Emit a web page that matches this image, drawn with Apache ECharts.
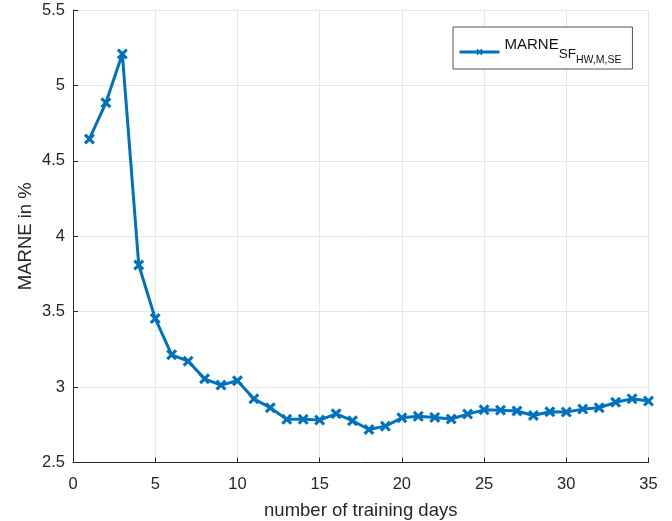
<!DOCTYPE html>
<html>
<head>
<meta charset="utf-8">
<script src="https://cdn.jsdelivr.net/npm/echarts@6/dist/echarts.min.js"></script>
<style>
  html, body { margin: 0; padding: 0; background: #fff; }
  #chart { width: 672px; height: 521px; }
</style>
</head>
<body>
<div id="chart"></div>
<script>
// Training days (x) and the error metric in percent (y)
const days = [1,2,3,4,5,6,7,8,9,10,11,12,13,14,15,16,17,18,19,20,21,22,23,24,25,26,27,28,29,30,31,32,33,34,35];
const marne = [4.645,4.885,5.208,3.809,3.455,3.214,3.172,3.055,3.013,3.042,2.922,2.863,2.786,2.786,2.781,2.823,2.777,2.719,2.741,2.796,2.806,2.799,2.788,2.821,2.849,2.847,2.841,2.812,2.836,2.834,2.854,2.863,2.899,2.922,2.907];
const xTicks = [0,5,10,15,20,25,30,35];
const yTicks = [2.5,3,3.5,4,4.5,5,5.5];

const blue = '#0072BD';
const ink = '#262626';
const font = 'Liberation Sans, Arial, Helvetica, sans-serif';
const crossPath = 'path://M0,2 L2,0 L5,3 L8,0 L10,2 L7,5 L10,8 L8,10 L5,7 L2,10 L0,8 L3,5 Z';

const chart = echarts.init(document.getElementById('chart'));
chart.setOption({
  animation: false,
  backgroundColor: '#fff',
  grid: { left: 73, right: 23.5, top: 10, bottom: 58.5, outerBoundsMode: 'none', containLabel: false },
  xAxis: {
    type: 'value', min: 0, max: 35, interval: 5,
    name: 'number of training days', nameLocation: 'middle', nameGap: 39,
    nameMoveOverlap: false,
    nameTextStyle: { fontFamily: font, fontSize: 18.5, color: ink },
    axisLine: { show: true, onZero: false, lineStyle: { color: ink, width: 1 } },
    axisTick: { show: true, inside: true, length: 5, lineStyle: { color: ink } },
    axisLabel: { fontFamily: font, fontSize: 16.5, color: ink, margin: 13,
      formatter: v => xTicks.includes(v) ? String(v) : '' },
    splitLine: { show: true, lineStyle: { color: '#e6e6e6', width: 1 } }
  },
  yAxis: {
    type: 'value', min: 2.5, max: 5.5, interval: 0.5,
    name: 'MARNE in %', nameLocation: 'middle', nameGap: 38,
    nameMoveOverlap: false,
    nameTextStyle: { fontFamily: font, fontSize: 18.5, color: ink },
    axisLine: { show: true, onZero: false, lineStyle: { color: ink, width: 1 } },
    axisTick: { show: true, inside: true, length: 5, lineStyle: { color: ink } },
    axisLabel: { fontFamily: font, fontSize: 16.5, color: ink, margin: 8,
      formatter: v => yTicks.includes(v) ? String(v) : '' },
    splitLine: { show: true, lineStyle: { color: '#e6e6e6', width: 1 } }
  },
  legend: {
    left: 453, top: 27,
    orient: 'vertical',
    backgroundColor: '#fff',
    borderColor: '#555', borderWidth: 1,
    padding: [10, 11, 3, 5],
    itemWidth: 40, itemHeight: 8,
    itemGap: 5,
    lineStyle: { width: 3, color: blue },
    formatter: () => '{a|MARNE}{b|SF}{c|HW,M,SE}',
    textStyle: {
      fontFamily: font, color: '#111',
      rich: {
        a: { fontFamily: font, fontSize: 15, color: '#111', verticalAlign: 'bottom', lineHeight: 28, padding: [0, 0, 14, 0] },
        b: { fontFamily: font, fontSize: 13.5, color: '#111', verticalAlign: 'bottom', lineHeight: 28, padding: [0, 0, 5, 0] },
        c: { fontFamily: font, fontSize: 10.5, color: '#111', verticalAlign: 'bottom', lineHeight: 28, padding: [0, 0, 0, 0] }
      }
    },
    data: ['MARNE']
  },
  series: [{
    name: 'MARNE',
    type: 'line',
    data: days.map((d, i) => [d, marne[i]]),
    symbol: crossPath,
    symbolSize: 11,
    showSymbol: true,
    lineStyle: { color: blue, width: 3 },
    itemStyle: { color: blue },
    z: 5
  }]
});
</script>
</body>
</html>
